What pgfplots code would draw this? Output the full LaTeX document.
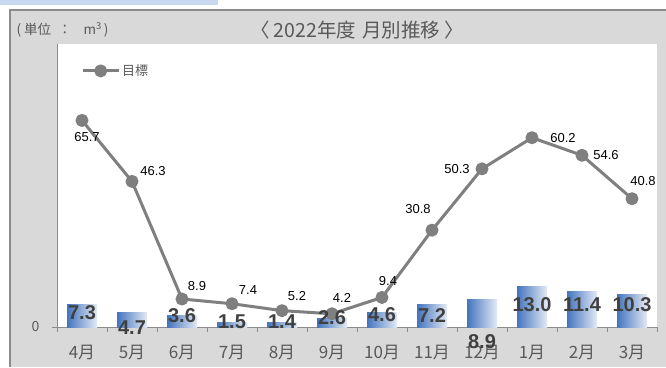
\documentclass[border=0pt]{standalone}
\usepackage{fontspec}
\setmainfont{Liberation Sans}
\newfontfamily\jp{Noto Sans CJK JP}
\usepackage{pgfplots}
\pgfplotsset{compat=1.18}
\usepackage{pgfplotstable}
\definecolor{bgray}{HTML}{D9D9D9}
\definecolor{framec}{HTML}{8C8C8C}
\definecolor{txt}{HTML}{595959}
\definecolor{lblc}{HTML}{404040}
\definecolor{lineg}{HTML}{7F7F7F}
\definecolor{barL}{HTML}{4374BD}
\definecolor{barR}{HTML}{E3EAF5}
\definecolor{topblue}{HTML}{C6D9F1}

\pgfplotstableread{
x target
0 65.7
1 46.3
2 8.9
3 7.4
4 5.2
5 4.2
6 9.4
7 30.8
8 50.3
9 60.2
10 54.6
11 40.8
}\data

\pgfplotstableread{
x y lbl
0 4.45 7.3
1 -0.3 4.7
2 3.7 3.6
3 1.6 1.5
4 1.6 1.4
5 2.9 2.6
6 3.8 4.6
7 3.5 7.2
8 -4.8 8.9
9 7.0 13.0
10 7.0 11.4
11 7.0 10.3
}\barlbl

\pgfplotstableread{
x y lbl
0.1 60.4 65.7
1.42 49.6 46.3
2.3 13.0 8.9
3.32 11.8 7.4
4.3 9.9 5.2
5.2 9.2 4.2
6.12 14.6 9.4
6.72 37.5 30.8
7.5 50.3 50.3
9.62 60.2 60.2
10.48 54.6 54.6
11.22 46.3 40.8
}\linelbl

\begin{document}
\begin{tikzpicture}[x=1pt,y=1pt]
\useasboundingbox (0,0) rectangle (666,367);
\fill[white] (0,0) rectangle (666,367);
\fill[topblue] (0,362) rectangle (218,367);
\fill[bgray] (10,0) rectangle (666,357);
\draw[framec, line width=1.2pt] (10,0) -- (10,357) -- (666,357);
\node[anchor=west, text=txt, font=\jp\fontsize{13.5pt}{15pt}\selectfont] at (13,337) {(\hspace{3pt}単位\hspace{7pt}：\hspace{12pt}m\textsuperscript{3}\hspace{2pt})};
\node[text=txt, font=\jp\fontsize{19.5pt}{21pt}\selectfont] at (357,337) {〈\kern4pt 2022年度\kern6pt 月別推移\kern4pt 〉};
\begin{axis}[
  at={(57pt,40pt)}, anchor=south west,
  width=600pt, height=283pt, scale only axis,
  xmin=-0.5, xmax=11.5, ymin=0, ymax=90,
  axis background/.style={fill=white},
  axis x line*=bottom, axis y line*=left,
  axis line style={draw=framec, line width=0.9pt},
  tick align=outside,
  major tick length=0pt,
  minor tick length=5pt,
  tick style={draw=framec, line width=0.9pt},
  xtick={0,1,2,3,4,5,6,7,8,9,10,11},
  xticklabels={4月,5月,6月,7月,8月,9月,10月,11月,12月,1月,2月,3月},
  minor xtick={-0.5,0.5,1.5,2.5,3.5,4.5,5.5,6.5,7.5,8.5,9.5,10.5,11.5},
  ytick={0},
  minor ytick={0},
  /pgf/number format/assume math mode=true,
  yticklabel style={font=\jp\fontsize{14pt}{16pt}\selectfont, text=txt, xshift=-14pt},
  xticklabel style={font=\jp\fontsize{17pt}{19pt}\selectfont, text=txt, yshift=-15pt},
  legend style={at={(0.04,0.905)}, anchor=west, draw=none, fill=none, font=\jp\fontsize{13pt}{15pt}\selectfont, text=txt, inner sep=0pt},
  legend image code/.code={\draw[mark repeat=2,mark phase=2,#1] plot coordinates {(0pt,0pt) (18pt,0pt) (36pt,0pt)};},
  mybar/.style={ybar, bar width=0.6, bar shift=0pt, draw=none, left color=barL, right color=barR, forget plot},
  clip=false,
]
\addplot[mybar] coordinates {(0,7.3)};
\addplot[mybar] coordinates {(1,4.7)};
\addplot[mybar] coordinates {(2,3.6)};
\addplot[mybar] coordinates {(3,1.5)};
\addplot[mybar] coordinates {(4,1.4)};
\addplot[mybar] coordinates {(5,2.6)};
\addplot[mybar] coordinates {(6,4.6)};
\addplot[mybar] coordinates {(7,7.2)};
\addplot[mybar] coordinates {(8,8.9)};
\addplot[mybar] coordinates {(9,13.0)};
\addplot[mybar] coordinates {(10,11.4)};
\addplot[mybar] coordinates {(11,10.3)};
\addplot[lineg, line width=3pt, line join=round, mark=*, mark size=5pt, mark options={fill=lineg, draw=none, solid}] table[x=x,y=target] {\data};
\addlegendentry{目標}
\addplot[draw=none, mark=none, forget plot, nodes near coords, point meta=explicit symbolic,
  every node near coord/.style={anchor=center, text=lblc, font=\bfseries\fontsize{20pt}{22pt}\selectfont}]
  table[x=x,y=y,meta=lbl] {\barlbl};
\addplot[draw=none, mark=none, forget plot, nodes near coords, point meta=explicit symbolic,
  every node near coord/.style={anchor=center, text=black, font=\fontsize{13pt}{15pt}\selectfont}]
  table[x=x,y=y,meta=lbl] {\linelbl};
\end{axis}
\end{tikzpicture}
\end{document}
